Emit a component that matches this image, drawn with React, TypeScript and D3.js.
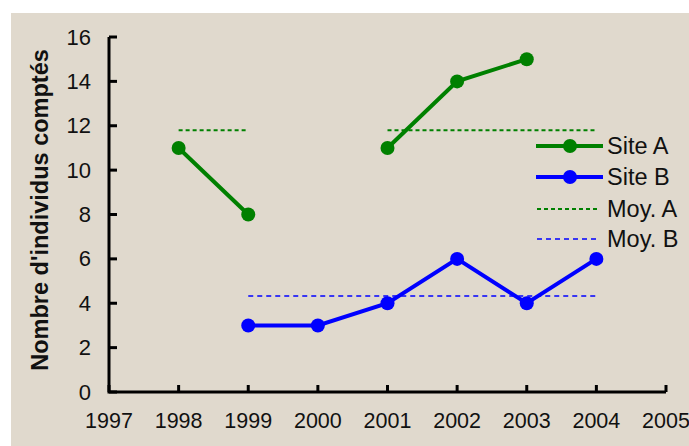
import React from "react";
import * as d3 from "d3";

const years = [1998, 1999, 2000, 2001, 2002, 2003, 2004];
const siteA: (number | null)[] = [11, 8, null, 11, 14, 15, null];
const siteB: (number | null)[] = [null, 3, 3, 4, 6, 4, 6];
const moyA: (number | null)[] = [11.8, 11.8, null, 11.8, 11.8, 11.8, 11.8];
const moyB: (number | null)[] = [null, 4.33, 4.33, 4.33, 4.33, 4.33, 4.33];
const xTicks = [1997, 1998, 1999, 2000, 2001, 2002, 2003, 2004, 2005];
const yTicks = [0, 2, 4, 6, 8, 10, 12, 14, 16];
const legendItems = [
  { label: "Site A", color: "#008000", kind: "line" },
  { label: "Site B", color: "#0000ff", kind: "line" },
  { label: "Moy. A", color: "#008000", kind: "dotA" },
  { label: "Moy. B", color: "#0000ff", kind: "dotB" },
];

const W = 689;
const H = 446;
const FONT = "'Liberation Sans', Arial, sans-serif";

export default function App() {
  const x = d3.scaleLinear().domain([1997, 2005]).range([109, 666]);
  const y = d3.scaleLinear().domain([0, 16]).range([392, 37]);

  const line = d3
    .line<number | null>()
    .defined((d) => d !== null)
    .x((_, i) => x(years[i]))
    .y((d) => y(d as number));

  const pts = (arr: (number | null)[]) =>
    arr
      .map((v, i) => ({ v, yr: years[i] }))
      .filter((p) => p.v !== null) as { v: number; yr: number }[];

  const legendY = [146, 177, 209, 239];

  return (
    <svg
      width={W}
      height={H}
      style={{ position: "absolute", left: 0, top: 0, display: "block" }}
    >
      <rect x={0} y={0} width={W} height={H} fill="#ffffff" />
      <rect x={11} y={13} width={W - 11} height={H - 13} fill="#e0d9cd" />

      {/* mean lines */}
      <path
        d={line(moyA) || ""}
        fill="none"
        stroke="#008000"
        strokeWidth={2}
        strokeDasharray="4,3"
      />
      <path
        d={line(moyB) || ""}
        fill="none"
        stroke="#0000ff"
        strokeWidth={1.6}
        strokeDasharray="5,4"
      />

      {/* series */}
      <path d={line(siteA) || ""} fill="none" stroke="#008000" strokeWidth={4} />
      {pts(siteA).map((p) => (
        <circle key={"a" + p.yr} cx={x(p.yr)} cy={y(p.v)} r={7} fill="#008000" />
      ))}
      <path d={line(siteB) || ""} fill="none" stroke="#0000ff" strokeWidth={4} />
      {pts(siteB).map((p) => (
        <circle key={"b" + p.yr} cx={x(p.yr)} cy={y(p.v)} r={7} fill="#0000ff" />
      ))}

      {/* axes */}
      <path
        d={`M${x(1997)},${y(16)}V${y(0)}H${x(2005)}`}
        fill="none"
        stroke="#000"
        strokeWidth={3}
      />
      {yTicks.map((t) => (
        <g key={"yt" + t}>
          <line x1={x(1997)} x2={x(1997) + 8} y1={y(t)} y2={y(t)} stroke="#000" strokeWidth={3} />
          <text
            x={91}
            y={y(t)}
            textAnchor="end"
            dominantBaseline="central"
            fontFamily={FONT}
            fontSize={22}
            fill="#111"
          >
            {t}
          </text>
        </g>
      ))}
      {xTicks.map((t) => (
        <g key={"xt" + t}>
          <line x1={x(t)} x2={x(t)} y1={y(0)} y2={y(0) - 7} stroke="#000" strokeWidth={3} />
          <text
            x={x(t)}
            y={421}
            textAnchor="middle"
            dominantBaseline="central"
            fontFamily={FONT}
            fontSize={21.5}
            fill="#111"
          >
            {t}
          </text>
        </g>
      ))}

      {/* y axis title */}
      <text
        transform={`translate(48,210) rotate(-90)`}
        textAnchor="middle"
        fontFamily={FONT}
        fontSize={23.5}
        fontWeight="bold"
        fill="#111"
      >
        Nombre d'individus comptés
      </text>

      {/* legend */}
      {legendItems.map((it, i) => {
        const ly = legendY[i];
        return (
          <g key={it.label}>
            {it.kind === "line" ? (
              <>
                <line x1={536} x2={603} y1={ly} y2={ly} stroke={it.color} strokeWidth={4} />
                <circle cx={570} cy={ly} r={7} fill={it.color} />
              </>
            ) : (
              <line
                x1={537}
                x2={598}
                y1={ly}
                y2={ly}
                stroke={it.color}
                strokeWidth={it.kind === "dotA" ? 2 : 1.6}
                strokeDasharray={it.kind === "dotA" ? "4,3" : "5,4"}
              />
            )}
            <text
              x={607}
              y={ly}
              dominantBaseline="central"
              fontFamily={FONT}
              fontSize={23.5}
              fill="#111"
            >
              {it.label}
            </text>
          </g>
        );
      })}
    </svg>
  );
}
